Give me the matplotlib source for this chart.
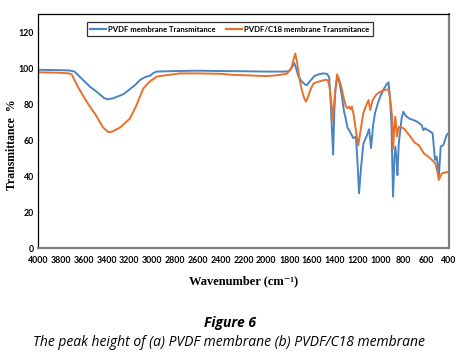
import matplotlib
matplotlib.use("Agg")
import matplotlib.pyplot as plt
from matplotlib.lines import Line2D

# ---- data ----
pvdf_wn = [4000, 3900, 3800, 3720, 3680, 3600, 3545, 3500, 3420, 3390, 3340, 3250, 3223,
           3150, 3107, 3060, 3019, 2990, 2960, 2800, 2600, 2400, 2200, 2000, 1850,
           1800, 1775, 1755, 1740, 1720, 1690, 1660, 1645, 1620, 1580, 1540, 1500,
           1470, 1450, 1435, 1425, 1415, 1405, 1395, 1378, 1360, 1340, 1320, 1305,
           1290, 1267, 1238, 1215, 1200, 1188, 1170, 1150, 1120, 1100, 1083, 1065,
           1048, 1020, 1000, 970, 946, 930, 917, 905, 890, 878, 870, 860, 852, 840,
           815, 800, 780, 750, 712, 680, 640, 625, 612, 600, 560, 543, 523, 508,
           488, 473, 450, 420, 400]
pvdf_t = [99.0, 98.9, 98.8, 98.6, 98.0, 93.0, 89.6, 87.5, 83.3, 82.6, 83.2, 85.5, 86.9,
          90.5, 93.3, 95.0, 95.7, 97.2, 98.0, 98.3, 98.5, 98.3, 98.2, 98.0, 98.0,
          98.2, 100.5, 102.8, 100.0, 95.5, 92.5, 90.8, 90.5, 92.5, 95.5, 96.5, 97.0,
          96.8, 95.0, 80.0, 65.0, 52.0, 75.0, 88.0, 95.2, 92.0, 85.0, 76.0, 72.0,
          67.0, 64.6, 61.0, 61.9, 46.0, 30.4, 45.0, 58.0, 62.5, 66.0, 55.5, 68.0,
          75.0, 81.0, 84.5, 88.5, 91.0, 92.0, 84.0, 70.0, 28.5, 50.0, 56.3, 50.0, 40.5, 58.0,
          72.0, 75.7, 73.5, 72.0, 71.1, 70.2, 68.3, 65.5, 66.5, 66.0, 64.5, 63.7, 48.9, 50.7,
          40.5, 56.3, 57.2, 62.8, 64.1]

c18_wn = [4000, 3900, 3800, 3730, 3705, 3650, 3600, 3545, 3500, 3430, 3390, 3369, 3340,
          3280, 3194, 3140, 3077, 3020, 2960, 2900, 2756, 2600, 2400, 2300, 2200,
          2000, 1900, 1820, 1780, 1760, 1746, 1730, 1710, 1690, 1670, 1653, 1635,
          1610, 1585, 1540, 1480, 1460, 1445, 1430, 1420, 1410, 1395, 1380, 1365,
          1345, 1325, 1305, 1290, 1275, 1260, 1250, 1235, 1215, 1195, 1175, 1150,
          1130, 1105, 1090, 1070, 1040, 1015, 980, 943, 928, 910, 899, 890, 880,
          870, 856, 842, 827, 800, 783, 740, 700, 666, 620, 580, 549, 520, 500,
          490, 475, 461, 430, 400]
c18_t = [97.6, 97.5, 97.3, 97.0, 96.5, 89.5, 84.0, 78.5, 74.5, 67.0, 64.6, 64.3, 65.0,
         67.0, 72.0, 79.0, 88.7, 92.5, 95.2, 95.8, 97.0, 97.0, 96.8, 96.2, 96.0,
         95.5, 96.0, 96.8, 100.0, 105.0, 108.0, 103.0, 94.0, 88.0, 83.5, 81.3, 84.0,
         88.5, 91.5, 92.5, 93.5, 93.0, 89.0, 80.0, 70.2, 78.0, 88.0, 96.5, 94.0,
         90.0, 84.0, 79.0, 77.6, 78.5, 77.0, 78.5, 74.0, 65.0, 57.0, 65.0, 75.0,
         78.5, 82.2, 76.7, 82.0, 85.0, 86.3, 87.5, 88.1, 87.8, 80.0, 73.0, 55.0, 66.0,
         73.0, 62.0, 67.0, 67.4, 66.5, 65.5, 62.0, 58.5, 57.2, 52.5, 50.7, 48.9, 47.0, 42.0,
         37.8, 40.0, 41.5, 42.0, 42.4]

series_labels = ["PVDF membrane Transmitance", "PVDF/C18 membrane Transmitance"]
x_ticks = list(range(4000, 399, -200))
y_ticks = [0, 20, 40, 60, 80, 100, 120]

blue = "#4a84c4"
orange = "#e8702a"

fig = plt.figure(figsize=(4.64, 3.57), dpi=100)
ax = fig.add_axes([38/464, 1 - 248/357, (449-38)/464, (248-14)/357])

ax.plot(pvdf_wn, pvdf_t, color=blue, lw=1.4, solid_joinstyle="round")
ax.plot(c18_wn, c18_t, color=orange, lw=1.4, solid_joinstyle="round")

ax.set_xlim(4000, 400)
ax.set_ylim(0, 130)
ax.set_xticks(x_ticks)
ax.set_yticks(y_ticks)
tick_font = dict(family="Lato", weight="bold", size=6.3)
ax.set_xticklabels([str(v) for v in x_ticks], **tick_font)
ax.set_yticklabels([str(v) for v in y_ticks], **tick_font)
ax.tick_params(axis="both", length=0)
ax.tick_params(axis="x", pad=6)
ax.tick_params(axis="y", pad=3)

ax.spines["left"].set_color("black")
ax.spines["left"].set_linewidth(0.9)
ax.spines["top"].set_color("black")
ax.spines["top"].set_linewidth(0.9)
ax.spines["right"].set_color("#808080")
ax.spines["right"].set_linewidth(1.6)
ax.spines["bottom"].set_color("#808080")
ax.spines["bottom"].set_linewidth(1.6)

ax.set_ylabel("Transmittance  %", family="Liberation Serif", weight="bold", size=8.5,
              labelpad=0)
ax.yaxis.set_label_coords((18 - 38) / 411, (248 - 145) / 234)
ax.set_xlabel("Wavenumber (cm\u207b\u00b9)", family=["Liberation Serif", "DejaVu Serif"],
              weight="bold", size=9)
ax.xaxis.set_label_coords((244 - 38) / 411, (248 - 275) / 234)

handles = [Line2D([0], [0], color=blue, lw=1.6), Line2D([0], [0], color=orange, lw=1.6)]
leg = ax.legend(handles, series_labels, loc="upper left",
                bbox_to_anchor=((87 - 38) / 411, (248 - 22) / 234),
                ncol=2, frameon=True, fancybox=False, borderpad=0.45,
                handlelength=2.0, handletextpad=0.3, columnspacing=1.3,
                prop=dict(family="Lato", weight="bold", size=5.6), borderaxespad=0)
leg.get_frame().set_edgecolor("black")
leg.get_frame().set_linewidth(0.9)

fig.text(230/464, 1 - 323/357, "Figure 6", family="Open Sans", weight="bold",
         style="italic", size=10, ha="center", va="center")
fig.text(229/464, 1 - 342/357,
         "The peak height of (a) PVDF membrane (b) PVDF/C18 membrane",
         family="Open Sans", style="italic", size=10, ha="center", va="center")

fig.savefig("out.png", dpi=100)
